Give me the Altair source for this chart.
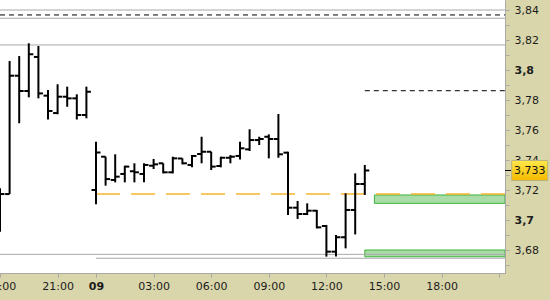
import altair as alt
import pandas as pd

# ---- half-hour OHLC bars (time stamps "day HH:MM") ----
stamps = [
    "8 18:00", "8 18:30", "8 19:00", "8 19:30", "8 20:00", "8 20:30", "8 21:00",
    "8 21:30", "8 22:00", "8 22:30",
    "9 00:00", "9 00:30", "9 01:00", "9 01:30", "9 02:00", "9 02:30", "9 03:00",
    "9 03:30", "9 04:00", "9 04:30", "9 05:00", "9 05:30", "9 06:00", "9 06:30",
    "9 07:00", "9 07:30", "9 08:00", "9 08:30", "9 09:00", "9 09:30", "9 10:00",
    "9 10:30", "9 11:00", "9 11:30", "9 12:00", "9 12:30", "9 13:00", "9 13:30",
    "9 14:00",
]
opens = [3.7000, 3.7173, 3.7962, 3.7860, 3.8087, 3.7829, 3.7713, 3.7822, 3.7811, 3.7700,
         3.7200, 3.7422, 3.7267, 3.7307, 3.7325, 3.7307, 3.7362, 3.7378, 3.7318, 3.7410,
         3.7367, 3.7440, 3.7455, 3.7360, 3.7415, 3.7427, 3.7471, 3.7533, 3.7555, 3.7540,
         3.7449, 3.7082, 3.7040, 3.7062, 3.6960, 3.6789, 3.6885, 3.7067, 3.7240]
highs = [3.7211, 3.8060, 3.8093, 3.8178, 3.8160, 3.7867, 3.7905, 3.7889, 3.7838, 3.7889,
         3.7522, 3.7422, 3.7438, 3.7362, 3.7378, 3.7378, 3.7407, 3.7378, 3.7422, 3.7411,
         3.7433, 3.7555, 3.7455, 3.7422, 3.7433, 3.7522, 3.7605, 3.7555, 3.7571, 3.7707,
         3.7455, 3.7127, 3.7111, 3.7067, 3.6967, 3.6900, 3.7178, 3.7311, 3.7367]
lows = [3.6922, 3.7173, 3.7645, 3.7818, 3.7811, 3.7670, 3.7705, 3.7755, 3.7670, 3.7678,
        3.7105, 3.7229, 3.7251, 3.7251, 3.7251, 3.7251, 3.7340, 3.7311, 3.7311, 3.7371,
        3.7351, 3.7378, 3.7333, 3.7351, 3.7378, 3.7404, 3.7460, 3.7500, 3.7411, 3.7415,
        3.7033, 3.7007, 3.7033, 3.6944, 3.6756, 3.6756, 3.6811, 3.6904, 3.7167]
closes = [3.7173, 3.7962, 3.7860, 3.8105, 3.7844, 3.7727, 3.7822, 3.7811, 3.7700, 3.7855,
          3.7450, 3.7273, 3.7289, 3.7356, 3.7318, 3.7367, 3.7371, 3.7318, 3.7411, 3.7378,
          3.7427, 3.7455, 3.7356, 3.7415, 3.7422, 3.7478, 3.7533, 3.7540, 3.7540, 3.7438,
          3.7082, 3.7040, 3.7062, 3.6951, 3.6789, 3.6885, 3.7067, 3.7240, 3.7330]

# ---- horizontal levels ----
grey_levels = [3.8400, 3.8345, 3.8167, 3.6771, 3.6745]
grey_start = ["8 18:00", "8 18:00", "8 18:00", "8 18:00", "9 00:00"]
black_levels = [3.8367, 3.7862]
black_start = ["8 18:00", "9 14:00"]
orange_levels = [3.7173]
orange_start = ["9 00:00"]
zone_low = [3.7111, 3.6755]
zone_high = [3.7167, 3.6800]
zone_start = ["9 14:30", "9 14:00"]

# ---- axis ticks ----
x_ticks = ["8 18:00", "8 21:00", "9 00:00", "9 03:00", "9 06:00", "9 09:00",
           "9 12:00", "9 15:00", "9 18:00", "9 21:00"]
x_tick_labels = ["18:00", "21:00", "09", "03:00", "06:00", "09:00",
                 "12:00", "15:00", "18:00", ""]
y_ticks = [round(3.67 + 0.01 * i, 2) for i in range(18)]


def trading_hours(stamp):
    """Position on the session time axis; the closed hour 23:00-24:00 is skipped."""
    day, hhmm = stamp.split()
    h, m = (int(v) for v in hhmm.split(":"))
    hours = h + m / 60
    return hours - 18 if day == "8" else hours + 5


X_MAX = 505 / 19.2
Y_MIN, Y_MAX = 3.66467, 3.84667
FONT = "DejaVu Sans"
GREY = "#a9a9a9"

bars = pd.DataFrame({
    "t": [trading_hours(s) for s in stamps],
    "open": opens, "high": highs, "low": lows, "close": closes,
})

x_label_expr = " : ".join(
    f"datum.value == {trading_hours(s)} ? '{lab}'" for s, lab in zip(x_ticks, x_tick_labels)
) + " : ''"

x_axis = alt.Axis(
    values=[trading_hours(s) for s in x_ticks], labelExpr=x_label_expr,
    labelFontWeight={"condition": {"test": "datum.value == 5", "value": "bold"}, "value": "normal"},
    labelFlush=False, labelOverlap=False, grid=False, title=None,
    domainColor=GREY, tickColor=GREY, tickSize=4, labelPadding=3,
    labelFont=FONT, labelFontSize=11, labelColor="#1c1c1c",
)
y_axis = alt.Axis(
    orient="right", values=y_ticks,
    labelExpr="round(datum.value * 100) % 2 == 0 ? replace(format(datum.value, '.2~f'), '.', ',') : ''",
    labelFontWeight={"condition": {"test": "round(datum.value * 100) % 10 == 0", "value": "bold"},
                     "value": "normal"},
    labelFlush=False, labelOverlap=False, grid=False, title=None,
    domainColor=GREY, tickColor=GREY, tickSize=4, labelPadding=5,
    labelAlign="left", labelBaseline="middle",
    labelFont=FONT, labelFontSize=11, labelColor="#1c1c1c",
)
xs = alt.Scale(domain=[0, X_MAX], nice=False, zero=False)
ys = alt.Scale(domain=[Y_MIN, Y_MAX], nice=False, zero=False)


def X(field):
    return alt.X(field, type="quantitative", scale=xs, axis=x_axis)


def Y(field):
    return alt.Y(field, type="quantitative", scale=ys, axis=y_axis)


base = alt.Chart(bars)

# green zones
zones = pd.DataFrame({
    "t0": [trading_hours(s) for s in zone_start], "t1": X_MAX,
    "lo": zone_low, "hi": zone_high,
})
zone_layer = alt.Chart(zones).mark_rect(
    fill="#a9dca6", stroke="#3cb43c", strokeWidth=1, clip=True
).encode(x=X("t0"), x2="t1:Q", y=Y("lo"), y2="hi:Q")


def level_layer(values, starts, color, dash=None, width=1):
    df = pd.DataFrame({"p": values, "t0": [trading_hours(s) for s in starts], "t1": X_MAX})
    kw = dict(color=color, strokeWidth=width, clip=True)
    if dash:
        kw["strokeDash"] = dash
    return alt.Chart(df).mark_rule(**kw).encode(x=X("t0"), x2="t1:Q", y=Y("p"))


grey_layer = level_layer(grey_levels, grey_start, GREY)
black_layer = level_layer(black_levels, black_start, "#000000", [5, 4])
orange_layer = level_layer(orange_levels, orange_start, "#f5b52e", [24, 11], 1.5)

# OHLC bars
hl = base.mark_rule(color="black", strokeWidth=2, clip=True).encode(
    x=X("t"), y=Y("low"), y2="high:Q",
)
open_tick = base.mark_rule(color="black", strokeWidth=2, clip=True, xOffset=-4.5, x2Offset=0).encode(
    x=X("t"), x2="t:Q", y=Y("open"),
)
close_tick = base.mark_rule(color="black", strokeWidth=2, clip=True, xOffset=0, x2Offset=4.5).encode(
    x=X("t"), x2="t:Q", y=Y("close"),
)

# last price tag on the price axis
last = pd.DataFrame({"p": [closes[-1]], "label": [f"{closes[-1]:.3f}".replace(".", ",")]})
tag_fill = alt.LinearGradient(
    gradient="linear", x1=0, y1=0, x2=0, y2=1,
    stops=[alt.GradientStop(color="#ffe84a", offset=0), alt.GradientStop(color="#f6b900", offset=1)],
)
tag_box = alt.Chart(last).mark_point(
    shape="M-1,-0.556L1,-0.556L1,0.556L-1,0.556Z", size=1296, filled=True,
    fill=tag_fill, stroke="#bcb27e", strokeWidth=1, opacity=1,
).encode(x=alt.value(529.7), y=Y("p"))
tag_tick = alt.Chart(last).mark_rule(color="black", strokeWidth=1).encode(
    x=alt.value(505), x2=alt.value(511), y=Y("p")
)
tag_text = alt.Chart(last).mark_text(
    align="left", baseline="middle", font=FONT, fontSize=11, color="#111111"
).encode(x=alt.value(514), y=Y("p"), text="label:N")

chart = alt.layer(
    zone_layer, grey_layer, black_layer, orange_layer, hl, open_tick, close_tick,
    tag_box, tag_tick, tag_text,
).properties(
    width=505, height=273,
).configure(
    background="#d9d6ab",
    padding={"left": 0, "top": 0, "right": 45, "bottom": 27},
    autosize=alt.AutoSizeParams(type="none"),
).configure_view(fill="white", stroke=None)

chart.save("out.html", embed_options={"renderer": "svg", "actions": False})
